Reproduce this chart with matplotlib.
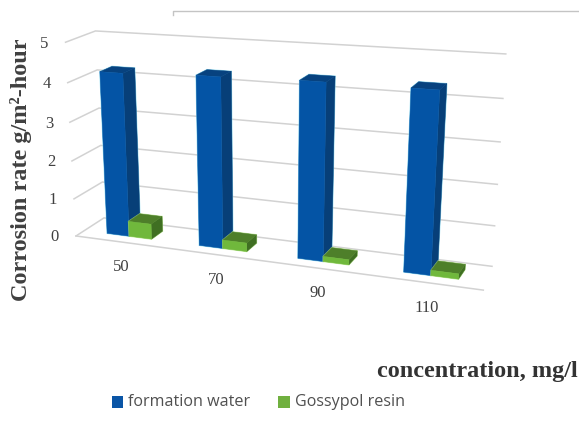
import numpy as np
import matplotlib
matplotlib.use("Agg")
import matplotlib.pyplot as plt
from matplotlib.patches import Polygon, Rectangle

categories = ["50", "70", "90", "110"]
formation_water = [4.22, 4.3, 4.35, 4.35]
gossypol_resin = [0.4, 0.22, 0.13, 0.13]
value_ticks = [0, 1, 2, 3, 4, 5]
series_names = ["formation water", "Gossypol resin"]

# Box corners (category, value, depth) and where they land on the canvas
BOX = [(0, 5, 0), (0, 0, 0), (4, 0, 0), (4, 5, 0), (0, 5, 1), (0, 0, 1), (4, 0, 1), (4, 5, 1)]
CANVAS = [(65, 41), (77, 236), (483, 291), (497, 69), (96, 32), (103, 218), (498, 266), (512, 54)]


def fit_camera(box, canvas):
    rows, rhs = [], []
    for (X, Y, Z), (u, v) in zip(box, canvas):
        rows.append([X, Y, Z, 1, 0, 0, 0, 0, -u * X, -u * Y, -u * Z])
        rows.append([0, 0, 0, 0, X, Y, Z, 1, -v * X, -v * Y, -v * Z])
        rhs += [u, v]
    p = np.linalg.lstsq(np.array(rows, float), np.array(rhs, float), rcond=None)[0]
    return np.append(p, 1.0).reshape(3, 4)


CAM = fit_camera(BOX, CANVAS)


def project(x, y, z):
    h = CAM @ np.array([x, y, z, 1.0])
    return h[0] / h[2], h[1] / h[2]


def draw_bar(ax, x0, x1, z0, z1, value, front, side, top, glow):
    a = project(x0, 0, z0)
    b = project(x1, 0, z0)
    c = project(x1, value, z0)
    d = project(x0, value, z0)
    e = project(x1, 0, z1)
    f = project(x1, value, z1)
    g = project(x0, value, z1)
    # Thin pale halo around the silhouette, then the three visible faces
    ax.add_patch(Polygon([a, b, e, f, g, d], closed=True, facecolor=glow, edgecolor=glow, lw=1.0,
                         alpha=0.7, zorder=3))
    for pts, col in (([b, e, f, c], side), ([d, c, f, g], top), ([a, b, c, d], front)):
        ax.add_patch(Polygon(pts, closed=True, facecolor=col, edgecolor=col, lw=0.3, zorder=3))


fig = plt.figure(figsize=(5.79, 4.23), dpi=100)
ax = fig.add_axes([0, 0, 1, 1])
ax.set_xlim(0, 579)
ax.set_ylim(423, 0)
ax.axis("off")

GRID = "#d2d2d2"
GRID_END = 3.95
for v in value_ticks:
    p0, p1, p2 = project(0, v, 0), project(0, v, 1), project(GRID_END, v, 1)
    ax.plot([p0[0], p1[0], p2[0]], [p0[1], p1[1], p2[1]], color=GRID, lw=1.1, zorder=1)
    ax.text(p0[0] - 21, p0[1] + 1.5, str(v), family="Liberation Serif", fontsize=12,
            color="#404040", ha="center", va="center")
f0, f1 = project(0, 0, 0), project(4, 0, 0)
ax.plot([f0[0], f1[0]], [f0[1], f1[1]], color=GRID, lw=1.1, zorder=1)

# Remnant of the chart frame along the top
ax.plot([173, 173, 579], [15, 11, 11], color="#c4c4c4", lw=1.0, zorder=1)

BAR_START = 0.255
BAR_W = 0.245
Z0, Z1 = 0.30, 0.72
for i, name in enumerate(categories):
    x0 = i + BAR_START
    draw_bar(ax, x0, x0 + BAR_W, Z0, Z1, formation_water[i], "#0454a5", "#073f78", "#07427f", "#7fd8f0")
    draw_bar(ax, x0 + BAR_W, x0 + 2 * BAR_W, Z0, Z1, gossypol_resin[i], "#70b83c", "#3f6f22", "#4e7f2a", "#b6e68a")
    lx, ly = project(i + 0.37, 0, 0)
    ax.text(lx + 12 + i * 1.3, ly + 27, name, family="Liberation Serif", fontsize=12, color="#404040",
            ha="center", va="center")

ax.text(21, 170, "Corrosion rate g/m²-hour", rotation=90, family="Liberation Serif", weight="bold",
        fontsize=17.5, color="#404040", ha="center", va="center")
ax.text(578, 372, "concentration, mg/l", family="Liberation Serif", weight="bold", fontsize=17.5,
        color="#333333", ha="right", va="center")

ax.add_patch(Rectangle((112, 396), 11, 12, facecolor="#0a55a6", edgecolor="none"))
ax.text(128, 402, series_names[0], family="Open Sans", fontsize=11.6, color="#505050", va="center")
ax.add_patch(Rectangle((278, 396), 12, 12, facecolor="#70b03f", edgecolor="none"))
ax.text(295, 402, series_names[1], family="Open Sans", fontsize=11.6, color="#505050", va="center")

fig.savefig("out.png", dpi=100)
